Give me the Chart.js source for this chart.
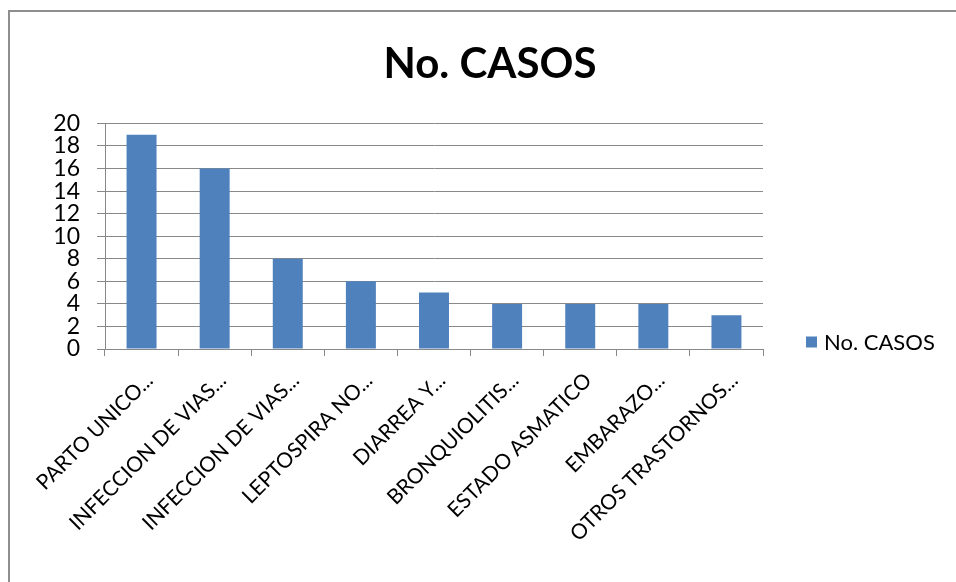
<!DOCTYPE html>
<html>
<head>
<meta charset="utf-8">
<script src="https://cdn.jsdelivr.net/npm/chart.js@4/dist/chart.umd.min.js"></script>
<style>
    body { margin: 0; background: #fff; }
    #wrap { position: relative; width: 956px; height: 582px; overflow: hidden; }
    #frame { position: absolute; left: 8px; top: 10px; right: -10px; bottom: -10px;
             border-left: 2px solid #8e8e8e; border-top: 2px solid #8e8e8e; pointer-events: none; }
</style>
</head>
<body>
<div id="wrap">
    <canvas id="myChart" width="956" height="582"></canvas>
    <div id="frame"></div>
</div>
<script>
const categories = [
    'PARTO UNICO...', 'INFECCION DE VIAS...', 'INFECCION DE VIAS...', 'LEPTOSPIRA NO...',
    'DIARREA Y...', 'BRONQUIOLITIS...', 'ESTADO ASMATICO', 'EMBARAZO...', 'OTROS TRASTORNOS...'
];
const casos = [19, 16, 8, 6, 5, 4, 4, 4, 3];
const seriesName = 'No. CASOS';
const yTicks = [0, 2, 4, 6, 8, 10, 12, 14, 16, 18, 20];

const FONT = 'Lato, "Open Sans", sans-serif';

// small legend drawn in the space the right (hidden) axis keeps free
const sideLegend = {
    id: 'sideLegend',
    afterDraw(chart) {
        const { ctx, chartArea } = chart;
        const ds = chart.data.datasets[0];
        const x = chartArea.right + 43;
        const y = chartArea.bottom - 7;
        ctx.save();
        ctx.fillStyle = ds.backgroundColor;
        ctx.fillRect(x, y - 5.5, 11, 11);
        ctx.fillStyle = '#000';
        ctx.font = '22px ' + FONT;
        ctx.textBaseline = 'middle';
        ctx.fillText(ds.label, x + 18, y + 1);
        ctx.restore();
    }
};

const ctx = document.getElementById('myChart').getContext('2d');
new Chart(ctx, {
    type: 'bar',
    data: {
        labels: categories,
        datasets: [{
            label: seriesName,
            data: casos,
            backgroundColor: '#4f81bd',
            categoryPercentage: 1,
            barPercentage: 0.41
        }]
    },
    options: {
        responsive: false,
        animation: false,
        layout: { padding: { left: 24, right: 0, top: 0, bottom: 0 } },
        plugins: {
            legend: { display: false },
            tooltip: { enabled: false },
            title: {
                display: true,
                text: seriesName,
                color: '#000',
                font: { family: FONT, size: 42, weight: 'bold' },
                padding: { top: 39, bottom: 34 }
            }
        },
        scales: {
            x: {
                grid: { drawOnChartArea: false, color: '#888', tickLength: 7 },
                border: { color: '#888' },
                ticks: {
                    color: '#000',
                    font: { family: FONT, size: 21 },
                    minRotation: 45,
                    maxRotation: 45,
                    autoSkip: false,
                    labelOffset: 8,
                    padding: 12
                },
                afterFit: s => { s.height = 233; }
            },
            y: {
                min: 0,
                max: 20,
                afterBuildTicks: s => { s.ticks = yTicks.map(v => ({ value: v })); },
                grid: { color: '#888', tickLength: 8 },
                border: { color: '#888' },
                ticks: {
                    color: '#000',
                    font: { family: FONT, size: 23 },
                    autoSkip: false,
                    padding: 17
                },
                afterFit: s => { s.width = 81; }
            },
            yRight: {
                position: 'right',
                display: true,
                grid: { display: false },
                border: { display: false },
                ticks: { display: false },
                afterFit: s => { s.width = 193; }
            }
        }
    },
    plugins: [sideLegend]
});
</script>
</body>
</html>
